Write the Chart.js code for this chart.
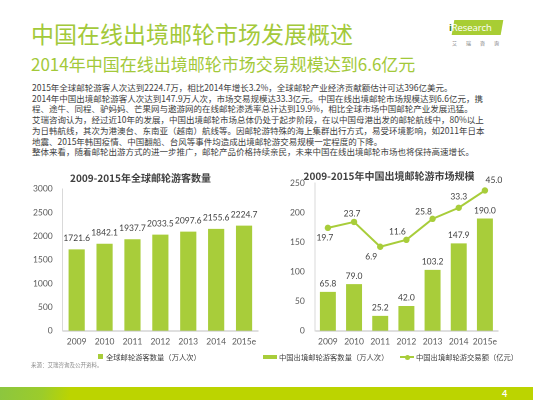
<!DOCTYPE html>
<html>
<head>
<meta charset="utf-8">
<script src="https://cdn.jsdelivr.net/npm/chart.js@4.4.1/dist/chart.umd.min.js"></script>
<style>
  html, body { margin: 0; padding: 0; background: #fff; }
  #page { position: relative; width: 533px; height: 400px; overflow: hidden; font-family: "Noto Sans CJK SC", sans-serif; }
  .abs { position: absolute; white-space: nowrap; }
  #title { left: 31px; top: 19px; font-size: 23px; line-height: 28px; color: #a3c93a; }
  #subtitle { left: 31px; top: 53px; font-size: 17px; line-height: 21px; color: #a3c93a; }
  #body { left: 32px; top: 82px; font-size: 8.5px; line-height: 10.7px; color: #404040; }
  canvas { position: absolute; }
  .legend { font-size: 7.3px; color: #404040; line-height: 10px; }
  #source { left: 31px; top: 361px; font-size: 5.5px; color: #8c8c8c; }
  #footer { left: 0; top: 387px; width: 533px; height: 13px; background: #bcd400; }
  #wedge { left: 0; top: 387px; width: 70px; height: 13px; background: linear-gradient(100deg, #8cc63f 0%, #9ccc2a 60%, rgba(188,212,0,0) 100%); }
  #pagenum { left: 502px; top: 387px; font-size: 9px; line-height: 13px; color: #fff; font-weight: bold; font-family: Lato, sans-serif; }
  #logo { left: 453px; top: 20px; width: 49px; height: 15px; background: #a8cd34; transform: skewX(-10deg); }
  #logotext { left: 449px; top: 20px; width: 54px; font-family: "Open Sans", sans-serif; font-size: 9.5px; line-height: 15px; color: #fff; letter-spacing: -0.1px; }
  #logocn { left: 452px; top: 39px; font-size: 5px; line-height: 7px; color: #777; letter-spacing: 9px; }
</style>
</head>
<body>
<div id="page">
  <div class="abs" id="title">中国在线出境邮轮市场发展概述</div>
  <div class="abs" id="subtitle">2014年中国在线出境邮轮市场交易规模达到6.6亿元</div>
  <div class="abs" id="body">
    2015年全球邮轮游客人次达到2224.7万，相比2014年增长3.2%，全球邮轮产业经济贡献额估计可达396亿美元。<br>
    2014年中国出境邮轮游客人次达到147.9万人次，市场交易规模达33.3亿元。中国在线出境邮轮市场规模达到6.6亿元，携<br>
    程、途牛、同程、驴妈妈、芒果网与遨游网的在线邮轮渗透率总计达到19.9%，相比全球市场中国邮轮产业发展迅猛。<br>
    艾瑞咨询认为，经过近10年的发展，中国出境邮轮市场总体仍处于起步阶段，在以中国母港出发的邮轮航线中，80%以上<br>
    为日韩航线，其次为港澳台、东南亚（越南）航线等。因邮轮游特殊的海上集群出行方式，易受环境影响，如2011年日本<br>
    地震、2015年韩国疫情、中国翻船、台风等事件均造成出境邮轮游交易规模一定程度的下降。<br>
    整体来看，随着邮轮出游方式的进一步推广，邮轮产品价格持续亲民，未来中国在线出境邮轮市场也将保持高速增长。
  </div>

  <div class="abs" id="logo"></div>
  <div class="abs" id="logotext"><span style="color:#3a7a2a;font-weight:bold">i</span>Research</div>
  <div class="abs" id="logocn">艾瑞咨询</div>

  <canvas id="leftChart" style="left:0px; top:168px; width:268px; height:185px;"></canvas>
  <canvas id="rightChart" style="left:268px; top:168px; width:265px; height:185px;"></canvas>

  <div class="abs legend" style="left:98px; top:352px;"><span style="display:inline-block;width:5px;height:5px;background:#a8cd3a;margin-right:3px;vertical-align:1px;"></span>全球邮轮游客数量（万人次）</div>
  <div class="abs legend" style="left:263px; top:352px;"><span style="display:inline-block;width:14px;height:4px;background:#a8cd3a;margin-right:2px;vertical-align:1px;"></span>中国出境邮轮游客数量（万人次）</div>
  <div class="abs legend" style="left:400px; top:352px;"><span style="display:inline-block;position:relative;width:14px;height:4px;margin-right:2px;vertical-align:1px;"><span style="position:absolute;left:0;top:1px;width:14px;height:1.5px;background:#a8cd3a;"></span><span style="position:absolute;left:4.5px;top:-0.5px;width:5px;height:5px;border-radius:50%;background:#a8cd3a;"></span></span>中国出境邮轮游交易额（亿元）</div>

  <div class="abs" id="source">来源：艾瑞咨询及公开资料。</div>

  <div class="abs" id="footer"></div>
  <div class="abs" id="wedge"></div>
  <div class="abs" id="pagenum">4</div>
</div>

<script>
// categories and values
const years = ['2009', '2010', '2011', '2012', '2013', '2014', '2015e'];
const globalPassengers = [1721.6, 1842.1, 1937.7, 2033.5, 2097.6, 2155.6, 2224.7];
const chinaPassengers = [65.8, 79.0, 25.2, 42.0, 103.2, 147.9, 190.0];
const chinaRevenue = [19.7, 23.7, 6.9, 11.6, 25.8, 33.3, 45.0];
const leftTitle = '2009-2015年全球邮轮游客数量';
const rightTitle = '2009-2015年中国出境邮轮游市场规模';
const leftLabel = '全球邮轮游客数量（万人次）';
const rightBarLabel = '中国出境邮轮游客数量（万人次）';
const rightLineLabel = '中国出境邮轮游交易额（亿元）';

const green = '#a8cd3a';
const textGray = '#404040';
const numFont = 'Lato, "Open Sans", sans-serif';

// label offsets for the revenue line (dx, dy from the point)
const lineLabelOffsets = [[-3, 10], [-2, -8], [-9, 10], [-9, -8], [-9, -7], [0, -11], [9, -10]];

// draws the value labels on bars and points
const valueLabels = {
    id: 'valueLabels',
    afterDatasetsDraw(chart) {
        const ctx = chart.ctx;
        ctx.save();
        ctx.font = '8.5px ' + numFont;
        ctx.fillStyle = textGray;
        ctx.textAlign = 'center';
        ctx.textBaseline = 'middle';
        chart.data.datasets.forEach((ds, i) => {
            const meta = chart.getDatasetMeta(i);
            meta.data.forEach((el, j) => {
                const txt = ds.data[j].toFixed(1);
                if (ds.type === 'line') {
                    const off = lineLabelOffsets[j];
                    ctx.fillText(txt, el.x + off[0], el.y + off[1]);
                } else {
                    ctx.fillText(txt, el.x, el.y - (ds.labelGap || 8));
                }
            });
        });
        ctx.restore();
    }
};

Chart.defaults.font.family = numFont;
Chart.defaults.color = '#595959';
Chart.defaults.animation = false;

const xAxis = {
    grid: { display: false, drawTicks: false },
    border: { display: true, color: '#bfbfbf' },
    ticks: { padding: 6, font: { size: 8.5 }, maxRotation: 0, minRotation: 0, autoSkip: false }
};

new Chart(document.getElementById('leftChart'), {
    type: 'bar',
    data: {
        labels: years,
        datasets: [{
            label: leftLabel,
            data: globalPassengers,
            backgroundColor: green,
            barPercentage: 0.58,
            categoryPercentage: 1,
            labelGap: 11
        }]
    },
    options: {
        responsive: false,
        devicePixelRatio: 2,
        layout: { padding: { left: 23, right: 10, top: 0, bottom: 0 } },
        plugins: {
            legend: { display: false },
            tooltip: { enabled: false },
            title: {
                display: true,
                text: leftTitle,
                color: textGray,
                font: { family: '"Noto Sans CJK SC", sans-serif', size: 10, weight: 'bold' },
                padding: { top: 4, bottom: 5 }
            }
        },
        scales: {
            x: xAxis,
            y: {
                min: 0, max: 3000,
                grid: { display: false, drawTicks: false },
                border: { display: true, color: '#d9d9d9' },
                ticks: { stepSize: 500, padding: 10, font: { size: 8.5 }, callback: v => String(v) }
            }
        }
    },
    plugins: [valueLabels]
});

new Chart(document.getElementById('rightChart'), {
    type: 'bar',
    data: {
        labels: years,
        datasets: [{
            type: 'line',
            label: rightLineLabel,
            data: chinaRevenue,
            yAxisID: 'y1',
            borderColor: green,
            backgroundColor: green,
            borderWidth: 2,
            pointRadius: 3.2,
            pointBackgroundColor: green,
            pointBorderWidth: 0,
            order: 0
        }, {
            type: 'bar',
            label: rightBarLabel,
            data: chinaPassengers,
            yAxisID: 'y',
            backgroundColor: green,
            barPercentage: 0.61,
            categoryPercentage: 1,
            labelGap: 8,
            order: 1
        }]
    },
    options: {
        responsive: false,
        devicePixelRatio: 2,
        layout: { padding: { left: 12, right: 35, top: 0, bottom: 0 } },
        plugins: {
            legend: { display: false },
            tooltip: { enabled: false },
            title: {
                display: true,
                text: rightTitle,
                color: textGray,
                font: { family: '"Noto Sans CJK SC", sans-serif', size: 10, weight: 'bold' },
                padding: { top: 2, bottom: 1 }
            }
        },
        scales: {
            x: xAxis,
            y: {
                min: 0, max: 250,
                grid: { display: false, drawTicks: false },
                border: { display: true, color: '#d9d9d9' },
                ticks: { stepSize: 50, padding: 10, font: { size: 8.5 }, callback: v => String(v) }
            },
            y1: {
                display: false,
                min: -50, max: 50
            }
        }
    },
    plugins: [valueLabels]
});
</script>
</body>
</html>
